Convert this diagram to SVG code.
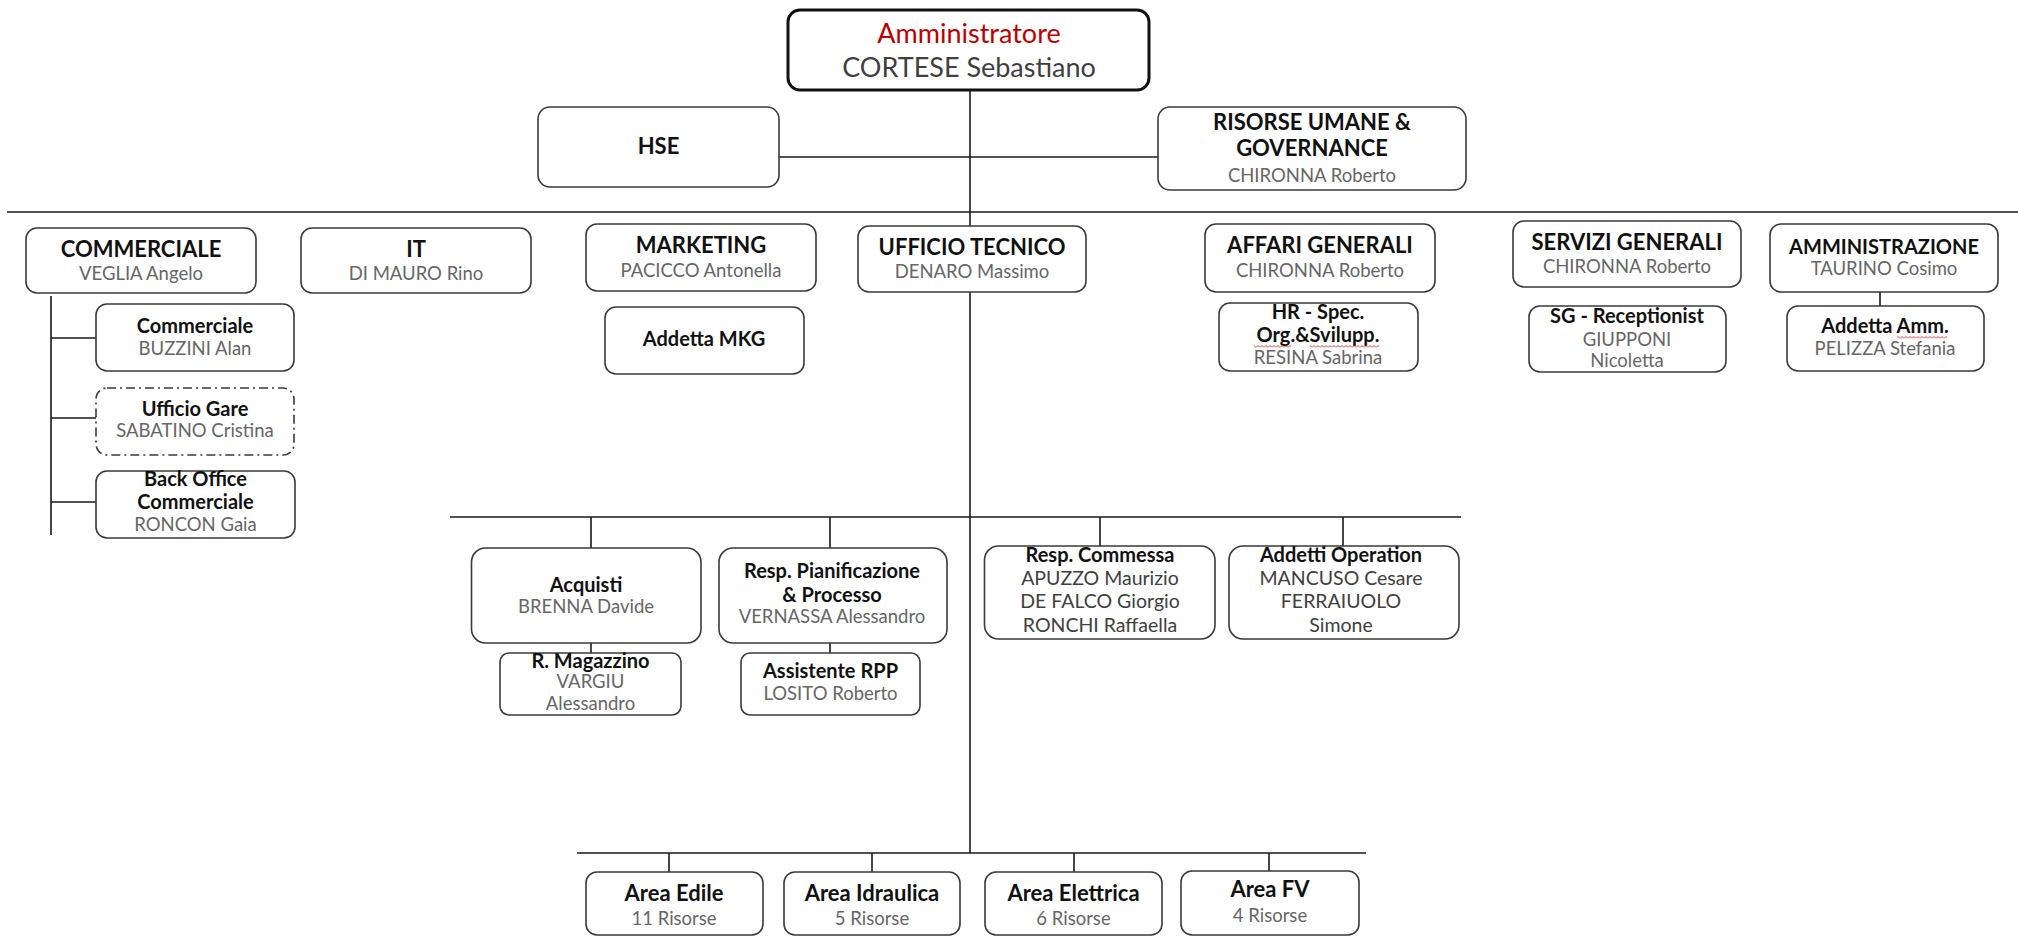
<svg xmlns="http://www.w3.org/2000/svg" width="2018" height="937" viewBox="0 0 2018 937">
<style>
  .box{fill:#fff;stroke:#3a3a3a;stroke-width:1.6}
  .top{fill:#fff;stroke:#111;stroke-width:3}
  .dash{fill:#fff;stroke:#3a3a3a;stroke-width:1.6;stroke-dasharray:9 4 2 4}
  .ln{fill:none;stroke:#1a1a1a;stroke-width:1.6}
  text{font-family:Lato,"Liberation Sans",sans-serif;text-anchor:middle}
  .t{font-size:27px;fill:#c00000}
  .tn{font-size:27px;fill:#3f3f3f}
  .h{font-size:22px;font-weight:700;fill:#111}
  .s{font-size:20px;font-weight:700;fill:#111}
  .n{font-size:18.5px;fill:#666}
  .m{font-size:19.5px;fill:#404040}
  .sq{fill:url(#wave)}
</style>
<defs>
  <pattern id="wave" width="4" height="3" patternUnits="userSpaceOnUse">
    <path d="M0 2.5 L2 0.5 L4 2.5" fill="none" stroke="#e02020" stroke-width="0.9"/>
  </pattern>
</defs>
<g id="connectors">
  <path class="ln" d="M970 90 V853"/>
  <path class="ln" d="M779 157 H1158"/>
  <path class="ln" d="M7 212 H2018"/>
  <path class="ln" d="M51 296 V535 M51 338 H96 M51 418 H96 M51 502 H96"/>
  <path class="ln" d="M450 517 H1461 M591 517 V548 M830 517 V548 M1100 517 V546 M1343 517 V546"/>
  <path class="ln" d="M591 643 V653 M830 643 V653"/>
  <path class="ln" d="M1880 292 V306"/>
  <path class="ln" d="M577 853 H1366 M669 853 V872 M872 853 V872 M1074 853 V872 M1269 853 V871"/>
</g>
<g id="amministratore">
  <rect class="top" x="788" y="10" width="361" height="80" rx="12"/>
  <text class="t" x="969" y="43">Amministratore</text>
  <text class="tn" x="969" y="77">CORTESE Sebastiano</text>
</g>
<g id="hse">
  <rect class="box" x="538" y="107" width="241" height="80" rx="12"/>
  <text class="h" x="658.5" y="154">HSE</text>
</g>
<g id="risorse-umane">
  <rect class="box" x="1158" y="107" width="308" height="83" rx="12"/>
  <text class="h" x="1312" y="130">RISORSE UMANE &amp;</text>
  <text class="h" x="1312" y="156">GOVERNANCE</text>
  <text class="n" x="1312" y="182">CHIRONNA Roberto</text>
</g>
<g id="commerciale">
  <rect class="box" x="26" y="228" width="230" height="65" rx="11"/>
  <text class="h" x="141" y="257">COMMERCIALE</text>
  <text class="n" x="141" y="280">VEGLIA Angelo</text>
</g>
<g id="it">
  <rect class="box" x="301" y="228" width="230" height="65" rx="11"/>
  <text class="h" x="416" y="257">IT</text>
  <text class="n" x="416" y="280">DI MAURO Rino</text>
</g>
<g id="marketing">
  <rect class="box" x="586" y="224" width="230" height="67" rx="11"/>
  <text class="h" x="701" y="253">MARKETING</text>
  <text class="n" x="701" y="277">PACICCO Antonella</text>
</g>
<g id="ufficio-tecnico">
  <rect class="box" x="858" y="226" width="228" height="66" rx="11"/>
  <text class="h" x="972" y="254.5">UFFICIO TECNICO</text>
  <text class="n" x="972" y="278">DENARO Massimo</text>
</g>
<g id="affari-generali">
  <rect class="box" x="1205" y="224" width="230" height="68" rx="11"/>
  <text class="h" x="1320" y="253">AFFARI GENERALI</text>
  <text class="n" x="1320" y="277">CHIRONNA Roberto</text>
</g>
<g id="servizi-generali">
  <rect class="box" x="1513" y="221" width="228" height="66" rx="11"/>
  <text class="h" x="1627" y="250">SERVIZI GENERALI</text>
  <text class="n" x="1627" y="273">CHIRONNA Roberto</text>
</g>
<g id="amministrazione">
  <rect class="box" x="1770" y="224" width="228" height="68" rx="11"/>
  <text class="h" x="1884" y="254" style="font-size:20px">AMMINISTRAZIONE</text>
  <text class="n" x="1884" y="275">TAURINO Cosimo</text>
</g>
<g id="addetta-amm">
  <rect class="box" x="1787" y="306" width="197" height="65" rx="11"/>
  <text class="s" x="1885" y="333">Addetta Amm.</text>
  <rect class="sq" x="1897" y="336" width="50" height="3"/>
  <text class="n" x="1885" y="355">PELIZZA Stefania</text>
</g>
<g id="sg-receptionist">
  <rect class="box" x="1529" y="306" width="197" height="66" rx="11"/>
  <text class="s" x="1627" y="323">SG - Receptionist</text>
  <text class="n" x="1627" y="346">GIUPPONI</text>
  <text class="n" x="1627" y="367">Nicoletta</text>
</g>
<g id="hr">
  <rect class="box" x="1219" y="303" width="199" height="68" rx="11"/>
  <text class="s" x="1318" y="319">HR - Spec.</text>
  <text class="s" x="1318" y="342">Org.&amp;Svilupp.</text>
  <rect class="sq" x="1254" y="345" width="37" height="3"/>
  <rect class="sq" x="1310" y="345" width="69" height="3"/>
  <text class="n" x="1318" y="364">RESINA Sabrina</text>
</g>
<g id="addetta-mkg">
  <rect class="box" x="605" y="307" width="199" height="67" rx="11"/>
  <text class="s" x="704" y="346">Addetta MKG</text>
</g>
<g id="commerciale-buzzini">
  <rect class="box" x="96" y="304" width="198" height="67" rx="11"/>
  <text class="s" x="195" y="333">Commerciale</text>
  <text class="n" x="195" y="355">BUZZINI Alan</text>
</g>
<g id="ufficio-gare">
  <rect class="dash" x="96" y="388" width="198" height="67" rx="11"/>
  <text class="s" x="195" y="416">Ufficio Gare</text>
  <text class="n" x="195" y="437">SABATINO Cristina</text>
</g>
<g id="back-office">
  <rect class="box" x="96" y="471" width="199" height="67" rx="11"/>
  <text class="s" x="195.5" y="486">Back Office</text>
  <text class="s" x="195.5" y="509">Commerciale</text>
  <text class="n" x="195.5" y="531">RONCON Gaia</text>
</g>
<g id="acquisti">
  <rect class="box" x="471.5" y="548" width="229.5" height="95" rx="14"/>
  <text class="s" x="586" y="592">Acquisti</text>
  <text class="n" x="586" y="613">BRENNA Davide</text>
</g>
<g id="r-magazzino">
  <rect class="box" x="500" y="653" width="181" height="62" rx="9"/>
  <text class="s" x="590.5" y="668">R. Magazzino</text>
  <text class="n" x="590.5" y="688">VARGIU</text>
  <text class="n" x="590.5" y="710">Alessandro</text>
</g>
<g id="resp-pianificazione">
  <rect class="box" x="719" y="548" width="228" height="95" rx="14"/>
  <text class="s" x="832" y="578">Resp. Pianificazione</text>
  <text class="s" x="832" y="602">&amp; Processo</text>
  <text class="n" x="832" y="623">VERNASSA Alessandro</text>
</g>
<g id="assistente-rpp">
  <rect class="box" x="741" y="653" width="179" height="62" rx="9"/>
  <text class="s" x="830.5" y="678">Assistente RPP</text>
  <text class="n" x="830.5" y="700">LOSITO Roberto</text>
</g>
<g id="resp-commessa">
  <rect class="box" x="984.5" y="546" width="230.5" height="93" rx="14"/>
  <text class="s" x="1100" y="562">Resp. Commessa</text>
  <text class="m" x="1100" y="585">APUZZO Maurizio</text>
  <text class="m" x="1100" y="608">DE FALCO Giorgio</text>
  <text class="m" x="1100" y="632">RONCHI Raffaella</text>
</g>
<g id="addetti-operation">
  <rect class="box" x="1229" y="546" width="230" height="93" rx="14"/>
  <text class="s" x="1341" y="562">Addetti Operation</text>
  <text class="m" x="1341" y="585">MANCUSO Cesare</text>
  <text class="m" x="1341" y="608">FERRAIUOLO</text>
  <text class="m" x="1341" y="632">Simone</text>
</g>
<g id="area-edile">
  <rect class="box" x="586" y="872" width="177" height="63" rx="11"/>
  <text class="h" x="674" y="901">Area Edile</text>
  <text class="n" x="674" y="925">11 Risorse</text>
</g>
<g id="area-idraulica">
  <rect class="box" x="784" y="872" width="176" height="63" rx="11"/>
  <text class="h" x="872" y="901">Area Idraulica</text>
  <text class="n" x="872" y="925">5 Risorse</text>
</g>
<g id="area-elettrica">
  <rect class="box" x="985" y="872" width="177" height="63" rx="11"/>
  <text class="h" x="1073.5" y="901">Area Elettrica</text>
  <text class="n" x="1073.5" y="925">6 Risorse</text>
</g>
<g id="area-fv">
  <rect class="box" x="1181" y="871" width="178" height="64" rx="11"/>
  <text class="h" x="1270" y="897">Area FV</text>
  <text class="n" x="1270" y="922">4 Risorse</text>
</g>
</svg>
